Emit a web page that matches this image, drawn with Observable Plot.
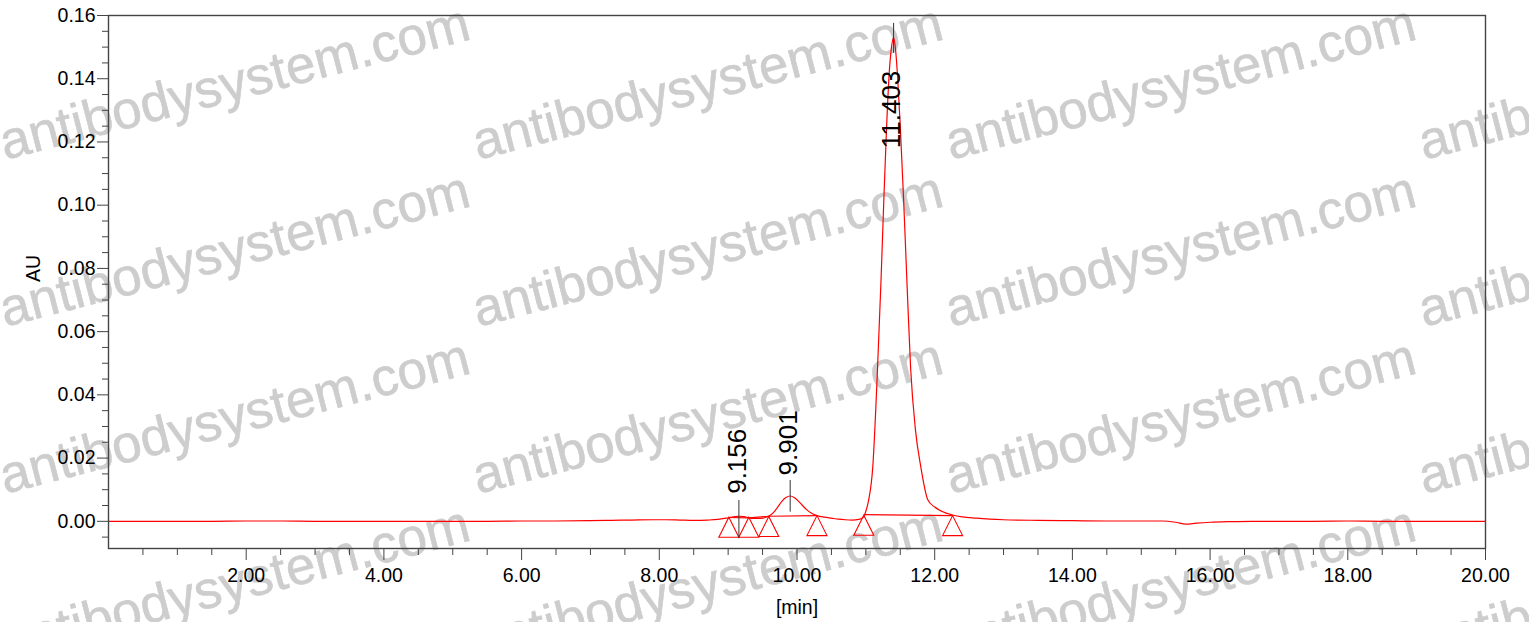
<!DOCTYPE html>
<html><head><meta charset="utf-8">
<script src="https://cdn.jsdelivr.net/npm/d3@7"></script>
<script src="https://cdn.jsdelivr.net/npm/@observablehq/plot@0.6"></script>
<style>
html,body{margin:0;padding:0;background:#fff;}
#wrap{position:relative;width:1529px;height:622px;overflow:hidden;}
#wm{position:absolute;left:0;top:0;}
#chart{position:absolute;left:0;top:0;}
</style></head><body>
<div id="wrap"><svg id="wm" width="1529" height="622"></svg><div id="chart"></div></div>
<script>
// Chromatogram trace (time in min, absorbance in AU)
const time = [0, 0.5, 1, 1.5, 2, 2.5, 3, 3.5, 4, 4.5, 5, 5.5, 6, 6.5, 7, 7.3, 7.6, 7.9, 8.1, 8.3, 8.5, 8.7, 8.85,
  9.0, 9.08, 9.156, 9.23, 9.30, 9.38, 9.45, 9.52, 9.59, 9.66, 9.72, 9.78, 9.84, 9.901, 9.96, 10.02, 10.08, 10.14, 10.2,
  10.29, 10.4, 10.5, 10.6, 10.7, 10.8, 10.9, 10.97, 11.0, 11.04, 11.1, 11.17, 11.22, 11.26, 11.30, 11.34, 11.37, 11.403,
  11.43, 11.46, 11.50, 11.55, 11.60, 11.65, 11.72, 11.80, 11.90, 12.0, 12.1, 12.26, 12.4, 12.6, 12.8, 13.0, 13.5, 14.0,
  14.5, 15.0, 15.3, 15.5, 15.65, 15.8, 16.0, 16.3, 16.6, 17.0, 17.5, 18.0, 18.5, 19.0, 19.5, 20.0];
const au = [0, 0, 0, 0, 0.0001, 0.0001, 0, 0, 0, 0, 0, 0, 0.0001, 0.0001, 0.0002, 0.0003, 0.0004, 0.0005, 0.0005, 0.0004, 0.0003, 0.0004, 0.0006,
  0.0011, 0.0014, 0.0016, 0.0015, 0.0011, 0.0009, 0.0009, 0.0011, 0.0016, 0.0028, 0.0045, 0.0063, 0.0075, 0.0080, 0.0075, 0.0064, 0.0050, 0.0037, 0.0027,
  0.0018, 0.0013, 0.0010, 0.0007, 0.0005, 0.0004, 0.0006, 0.0015, 0.0032, 0.0066, 0.017, 0.0486, 0.076, 0.101, 0.124, 0.142, 0.1495, 0.1530,
  0.1495, 0.141, 0.125, 0.101, 0.074, 0.0486, 0.029, 0.017, 0.0068, 0.0045, 0.0032, 0.0020, 0.0014, 0.0010, 0.0007, 0.0005, 0.0003, 0.0002,
  0.0001, 0.0001, 0.0001, -0.0003, -0.0009, -0.0006, -0.0003, -0.0001, 0, 0, 0, 0.0001, 0, 0, 0, 0];

// Peaks
const peakTime = [9.156, 9.901, 11.403];
const peakLabel = ["9.156", "9.901", "11.403"];
const peakTickLow = [-0.0055, 0.0029, 0.148];
const peakTickHigh = [0.0066, 0.0129, 0.1575];
const peakLabelBase = [0.0087, 0.0145, 0.118];

// Integration marks
const markerTime = [9.01, 9.30, 9.59, 10.29, 10.97, 12.26];
const markerAU = [0.0013, 0.0013, 0.0015, 0.0018, 0.0019, 0.0018];
const baseStartT = [9.01, 9.30, 9.59, 10.97];
const baseStartAU = [0.0012, 0.0011, 0.0016, 0.0021];
const baseEndT = [9.30, 9.59, 10.29, 12.26];
const baseEndAU = [0.0011, 0.0016, 0.0018, 0.0018];

// Ticks
const xMajor = [2, 4, 6, 8, 10, 12, 14, 16, 18, 20];
const xMinor = d3.range(0.5, 20, 0.5).filter(v => v % 2 !== 0);
const yMajor = [0, 0.02, 0.04, 0.06, 0.08, 0.10, 0.12, 0.14, 0.16];
const yMinor = d3.range(-0.005, 0.16, 0.005).map(v => +v.toFixed(3)).filter(v => Math.abs(Math.round(v / 0.02) * 0.02 - v) > 1e-6);

const trace = time.map((t, i) => ({t, v: au[i]}));
const peaks = peakTime.map((t, i) => ({t, label: peakLabel[i], lo: peakTickLow[i], hi: peakTickHigh[i], base: peakLabelBase[i]}));
const markers = markerTime.map((t, i) => ({t, v: markerAU[i]}));
const baselines = baseStartT.map((t, i) => ({x1: t, y1: baseStartAU[i], x2: baseEndT[i], y2: baseEndAU[i]}));

const apexTriangle = {
  draw(ctx, size) {
    const h = Math.sqrt(size / Math.PI) * 2;
    ctx.moveTo(0, 0);
    ctx.lineTo(-h / 2, h);
    ctx.lineTo(h / 2, h);
    ctx.closePath();
  }
};

const red = "#ff0000";
const font = "Arial, 'Liberation Sans', sans-serif";

const chart = Plot.plot({
  width: 1529, height: 622,
  marginLeft: 108, marginRight: 44, marginTop: 15, marginBottom: 74,
  style: {background: "transparent", fontFamily: font, fontSize: "19.5px", color: "#000", overflow: "visible"},
  x: {domain: [0, 20]},
  y: {domain: [-0.0086, 0.16]},
  marks: [
    Plot.axisY({ticks: yMajor, tickSize: 11, tickPadding: 2, tickFormat: d3.format(".2f"), label: null, stroke: "#444", fill: "#000", fontSize: 19.5}),
    Plot.axisY({ticks: yMinor, tickSize: 6, tickFormat: () => "", label: null, stroke: "#444"}),
    Plot.axisX({ticks: xMajor, tickSize: 12, tickPadding: 8, tickFormat: d3.format(".2f"), label: null, stroke: "#444", fill: "#000", fontSize: 19.5}),
    Plot.axisX({ticks: xMinor, tickSize: 7, tickFormat: () => "", label: null, stroke: "#444"}),
    Plot.line(trace, {x: "t", y: "v", stroke: red, strokeWidth: 1.2, curve: "monotone-x"}),
    Plot.link(baselines, {x1: "x1", y1: "y1", x2: "x2", y2: "y2", stroke: red, strokeWidth: 1.1}),
    Plot.dot(markers, {x: "t", y: "v", symbol: apexTriangle, r: 10, stroke: red, fill: "none", strokeWidth: 1.1}),
    Plot.ruleX(peaks, {x: "t", y1: "lo", y2: "hi", stroke: "#333", strokeWidth: 1}),
    Plot.text(peaks, {x: "t", y: "base", text: "label", rotate: -90, textAnchor: "start", lineAnchor: "middle", fontSize: 26, fill: "#000", dx: -1.5}),
    Plot.text(["AU"], {frameAnchor: "left", dx: -75, rotate: -90, lineAnchor: "middle", fontSize: 19.5, fill: "#000"}),
    Plot.text(["[min]"], {frameAnchor: "bottom", dy: 59, lineAnchor: "middle", fontSize: 19.5, fill: "#000"}),
    Plot.frame({stroke: "#444", strokeWidth: 1.4})
  ]
});
document.getElementById("chart").append(chart);

// Watermark (behind the chart)
const wm = d3.select("#wm");
const wmCols = [5, 478, 951, 1424];
const wmRows = [160, 327, 494, 661];
for (const x0 of wmCols) for (const y0 of wmRows) {
  wm.append("text")
    .attr("transform", `translate(${x0},${y0}) rotate(-14.5)`)
    .attr("font-family", font)
    .attr("font-size", 53)
    .attr("fill", "#cdcdcd")
    .attr("stroke", "#cdcdcd")
    .attr("stroke-width", 0.6)
    .text("antibodysystem.com");
}
</script>
</body></html>
